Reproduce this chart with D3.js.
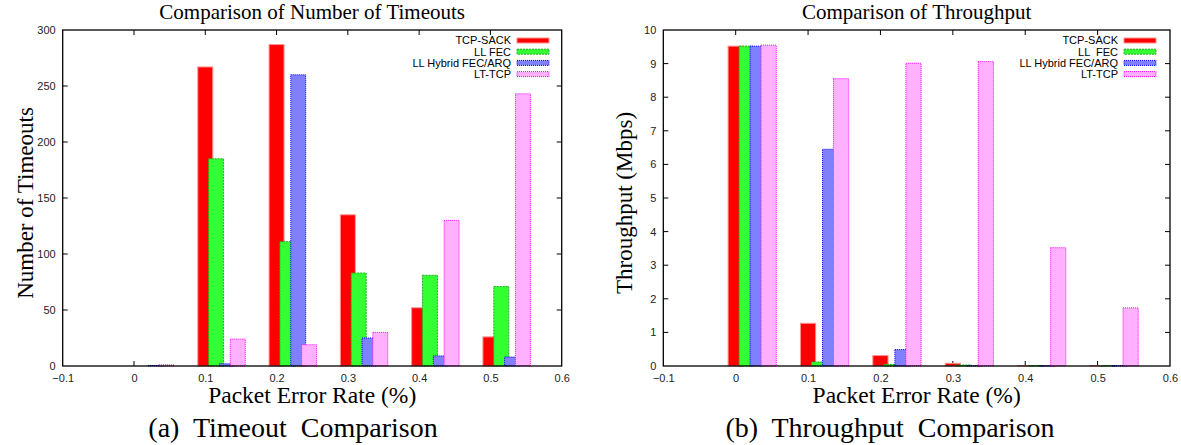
<!DOCTYPE html>
<html><head><meta charset="utf-8">
<script src="https://cdn.jsdelivr.net/npm/d3@7"></script>
<style>
body{margin:0;background:#fff;}
text{white-space:pre;}
</style></head>
<body>
<svg id="c" width="1181" height="445"></svg>
<script>
const errorRates = [0, 0.1, 0.2, 0.3, 0.4, 0.5];
const seriesNamesA = ["TCP-SACK", "LL FEC", "LL Hybrid FEC/ARQ", "LT-TCP"];
const seriesNamesB = ["TCP-SACK", "LL  FEC", "LL Hybrid FEC/ARQ", "LT-TCP"];
// Number of timeouts
const timeoutsSack   = [0, 267, 287, 135, 52, 26];
const timeoutsFec    = [0, 185, 111, 83, 81, 71];
const timeoutsHybrid = [0.5, 2, 260, 25, 9, 8];
const timeoutsLtTcp  = [1, 24, 19, 30, 130, 243];
// Throughput (Mbps)
const thrSack   = [9.52, 1.27, 0.31, 0.08, 0.01, 0.01];
const thrFec    = [9.52, 0.12, 0.05, 0.03, 0.01, 0.01];
const thrHybrid = [9.52, 6.45, 0.49, 0.01, 0.005, 0.01];
const thrLtTcp  = [9.55, 8.55, 9.01, 9.06, 3.52, 1.73];
const xTicks = [-0.1, 0, 0.1, 0.2, 0.3, 0.4, 0.5, 0.6];
const yTicksA = [0, 50, 100, 150, 200, 250, 300];
const yTicksB = [0, 1, 2, 3, 4, 5, 6, 7, 8, 9, 10];

const styles = [
  {fill:"#ff0000", stroke:"#ff9090", dash:null},
  {fill:"#33ff33", stroke:"#20b020", dash:"2,1"},
  {fill:"#8080ff", stroke:"#0000ff", dash:"1,1"},
  {fill:"#ffb0ff", stroke:"#ff00ff", dash:"1,1"}
];

const svg = d3.select("#c");
const serif = "'Liberation Serif','Times New Roman',serif";
const sans = "'Liberation Sans',Arial,Helvetica,sans-serif";

function panel(o){
  const x = d3.scaleLinear().domain([-0.1,0.6]).range([o.x0,o.x1]);
  const y = d3.scaleLinear().domain([0,o.ymax]).range([o.y1,o.y0]);
  const g = svg.append("g");
  const tl = 5;
  const bx = d3.axisBottom(x).tickValues(xTicks).tickSize(0).tickPadding(8).tickFormat(d=>d3.format("")(+d.toFixed(1)));
  const ga = g.append("g").attr("transform",`translate(0,${o.y1})`).call(bx);
  ga.select(".domain").remove();
  ga.selectAll("text").attr("font-family",sans).attr("font-size",11).attr("fill","#222");
  const ly = d3.axisLeft(y).tickValues(o.yTicks).tickSize(0).tickPadding(7);
  const gl = g.append("g").attr("transform",`translate(${o.x0},0)`).call(ly);
  gl.select(".domain").remove();
  gl.selectAll("text").attr("font-family",sans).attr("font-size",11).attr("fill","#222");
  const tg = g.append("g").attr("stroke","#000").attr("stroke-width",1);
  xTicks.slice(1,-1).forEach(t=>{
    tg.append("line").attr("x1",x(t)).attr("x2",x(t)).attr("y1",o.y1).attr("y2",o.y1-tl);
    tg.append("line").attr("x1",x(t)).attr("x2",x(t)).attr("y1",o.y0).attr("y2",o.y0+tl);
  });
  o.yTicks.slice(1,-1).forEach(t=>{
    tg.append("line").attr("x1",o.x0).attr("x2",o.x0+tl).attr("y1",y(t)).attr("y2",y(t));
    tg.append("line").attr("x1",o.x1).attr("x2",o.x1-tl).attr("y1",y(t)).attr("y2",y(t));
  });
  const off = 0.0152, w = 0.021;
  o.series.forEach((vals,i)=>{
    const s = styles[i];
    g.append("g").selectAll("rect").data(vals).join("rect")
      .attr("x",(d,j)=>x(errorRates[j]+i*off - w/2))
      .attr("width",x(w)-x(0))
      .attr("y",d=>y(d))
      .attr("height",d=>y(0)-y(d))
      .attr("fill",s.fill)
      .attr("stroke",s.stroke)
      .attr("stroke-width",1)
      .attr("stroke-dasharray",s.dash);
  });
  g.append("rect").attr("x",o.x0).attr("y",o.y0).attr("width",o.x1-o.x0).attr("height",o.y1-o.y0)
    .attr("fill","none").attr("stroke","#000").attr("stroke-width",1.3);
  o.names.forEach((n,i)=>{
    const yy = o.y0 + 10.5 + i*11.2;
    g.append("text").attr("x",o.legX).attr("y",yy).attr("dy","0.35em").attr("text-anchor","end")
      .attr("font-family",sans).attr("font-size",11).attr("fill","#000").text(n);
    const s = styles[i];
    g.append("rect").attr("x",o.legX+6).attr("y",yy-2.5).attr("width",32).attr("height",5)
      .attr("fill",s.fill).attr("stroke",s.stroke).attr("stroke-width",1).attr("stroke-dasharray",s.dash);
  });
  const cx = (o.x0+o.x1)/2;
  g.append("text").attr("x",cx).attr("y",19).attr("text-anchor","middle")
    .attr("font-family",serif).attr("font-size",21).text(o.title);
  g.append("text").attr("x",cx).attr("y",403).attr("text-anchor","middle")
    .attr("font-family",serif).attr("font-size",23.5).text("Packet Error Rate (%)");
  g.append("text").attr("transform",`translate(${o.ylx},${(o.y0+o.y1)/2+5}) rotate(-90)`).attr("text-anchor","middle")
    .attr("font-family",serif).attr("font-size",23).text(o.ylabel);
  g.append("text").attr("x",o.capX).attr("y",437).attr("text-anchor","middle")
    .attr("font-family",serif).attr("font-size",28).text(o.caption);
}

panel({x0:62.7,x1:561.7,y0:30,y1:366,ymax:300,yTicks:yTicksA,
  series:[timeoutsSack,timeoutsFec,timeoutsHybrid,timeoutsLtTcp],names:seriesNamesA,
  legX:511,title:"Comparison of Number of Timeouts",ylabel:"Number of Timeouts",ylx:33,
  caption:"(a)  Timeout  Comparison",capX:293});
panel({x0:663.3,x1:1170,y0:30,y1:366,ymax:10,yTicks:yTicksB,
  series:[thrSack,thrFec,thrHybrid,thrLtTcp],names:seriesNamesB,
  legX:1118,title:"Comparison of Throughput",ylabel:"Throughput (Mbps)",ylx:632,
  caption:"(b)  Throughput  Comparison",capX:890});
</script>
</body></html>
